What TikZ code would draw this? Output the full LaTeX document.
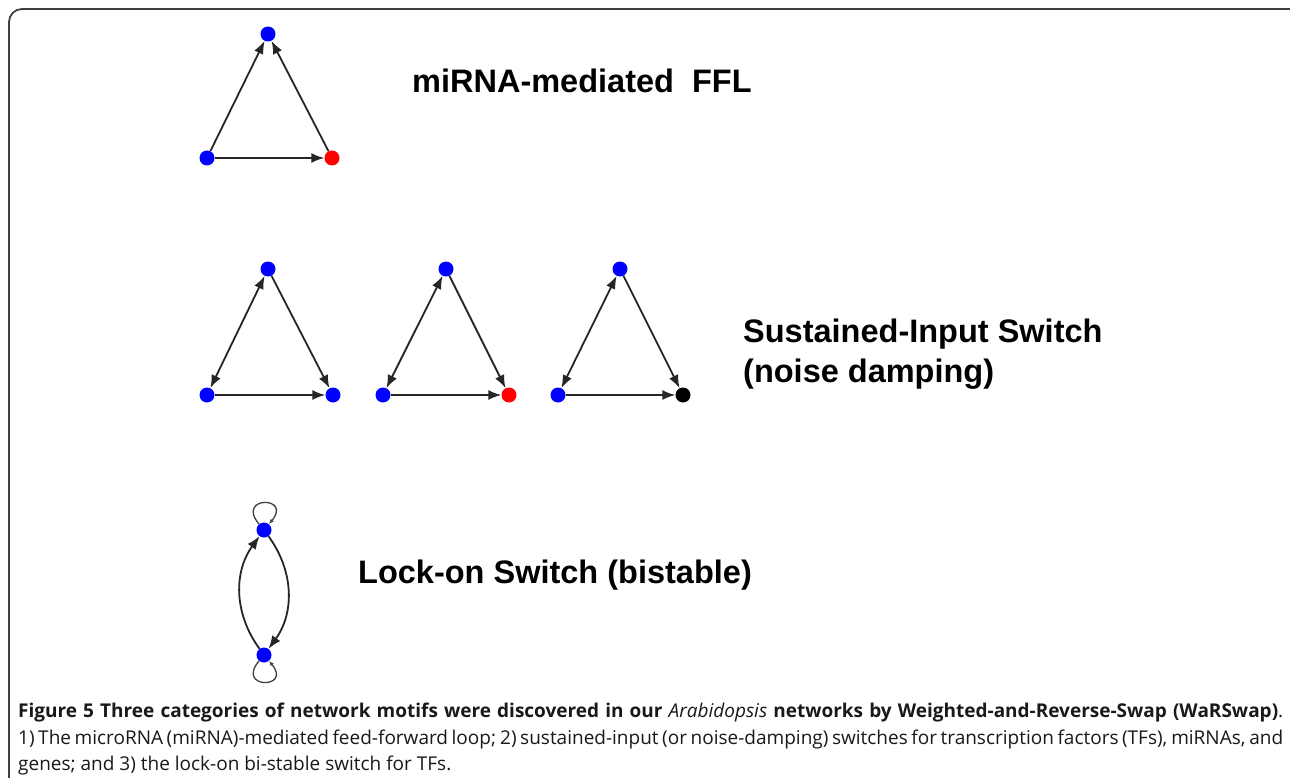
\documentclass[tikz,border=0pt]{standalone}
\usepackage{fontspec}
\setmainfont{Open Sans}
\newfontfamily\motiffont{Liberation Sans}
\usetikzlibrary{arrows.meta,positioning}

\tikzset{
	vert/.style={circle,fill=blue,draw=none,inner sep=0pt,minimum size=15pt},
	link/.style={-{Latex[length=13pt,width=10pt]},line width=1.8pt,black!85},
	twolink/.style={{Latex[length=13pt,width=10pt]}-{Latex[length=13pt,width=10pt]},line width=1.8pt,black!85},
	selfloop/.style={-{Latex[length=5pt,width=4pt]},line width=1.3pt,black!75},
	motif/.style={anchor=base west,inner sep=0pt,font=\motiffont\bfseries\fontsize{32.5}{40}\selectfont}
}

\begin{document}
\begin{tikzpicture}[x=1pt,y=-1pt]
	%%%%% START %%%%%
	\useasboundingbox (0,0) rectangle (1290,778);
	\fill[white] (0,0) rectangle (1290,778);
	\draw[line width=1.8pt,black!75,rounded corners=13pt] (9,778) -- (9,9) -- (1290,9);
	
	% miRNA-mediated FFL
	\node[vert] (fflt) at (268,34) {};
	\node[vert] (fflbl) at (207,158) {};
	\node[vert,fill=red] (fflbr) at (332,158) {};
	\draw[link] (fflbl) -- (fflt);
	\draw[link] (fflbr) -- (fflt);
	\draw[link] (fflbl) -- (fflbr);
	\node[motif] (ffltext) at (412,93) {miRNA-mediated\ \ FFL};
	
	% sustained-input switches
	\node[vert] (sa) at (268,269) {};
	\node[vert] (sabl) at (207,395) {};
	\node[vert] (sabr) at (333,395) {};
	\draw[twolink] (sabl) -- (sa);
	\draw[link] (sa) -- (sabr);
	\draw[link] (sabl) -- (sabr);
	
	\node[vert] (sb) at (446,269) {};
	\node[vert] (sbbl) at (383,395) {};
	\node[vert,fill=red] (sbbr) at (509,395) {};
	\draw[twolink] (sbbl) -- (sb);
	\draw[link] (sb) -- (sbbr);
	\draw[link] (sbbl) -- (sbbr);
	
	\node[vert] (sc) at (620,269) {};
	\node[vert] (scbl) at (558,395) {};
	\node[vert,fill=black] (scbr) at (683,395) {};
	\draw[twolink] (scbl) -- (sc);
	\draw[link] (sc) -- (scbr);
	\draw[link] (scbl) -- (scbr);
	
	\node[motif] (sustext) at (743,342) {Sustained-Input Switch};
	\node[motif] (noisetext) at (743,382) {(noise damping)};
	
	% lock-on switch
	\node[vert] (lkt) at (264,530) {};
	\node[vert] (lkb) at (264,655) {};
	\draw[link] (lkb) to[bend left=36] (lkt);
	\draw[link] (lkt) to[bend left=36] (lkb);
	\draw[selfloop] (lkt) to[out=130,in=50,min distance=37pt] (lkt);
	\draw[selfloop] (lkb) to[out=230,in=310,min distance=37pt] (lkb);
	\node[motif] (locktext) at (358,583) {Lock-on Switch (bistable)};
	
	% caption
	\node[anchor=north west,inner sep=0pt,text width=1265pt,align=justify,text=black!90,
		font=\fontsize{19}{26.5}\selectfont] (caption) at (18,703)
		{\hyphenpenalty=10000\relax
		\textbf{Figure 5 Three categories of network motifs were discovered in our} \textit{Arabidopsis} \textbf{networks by Weighted-and-Reverse-Swap (WaRSwap)}.\linebreak
		1) The microRNA (miRNA)-mediated feed-forward loop; 2) sustained-input (or noise-damping) switches for transcription factors (TFs), miRNAs, and\linebreak
		genes; and 3) the lock-on bi-stable switch for TFs.};
	
	%%%%% END %%%%%
\end{tikzpicture}
\end{document}
